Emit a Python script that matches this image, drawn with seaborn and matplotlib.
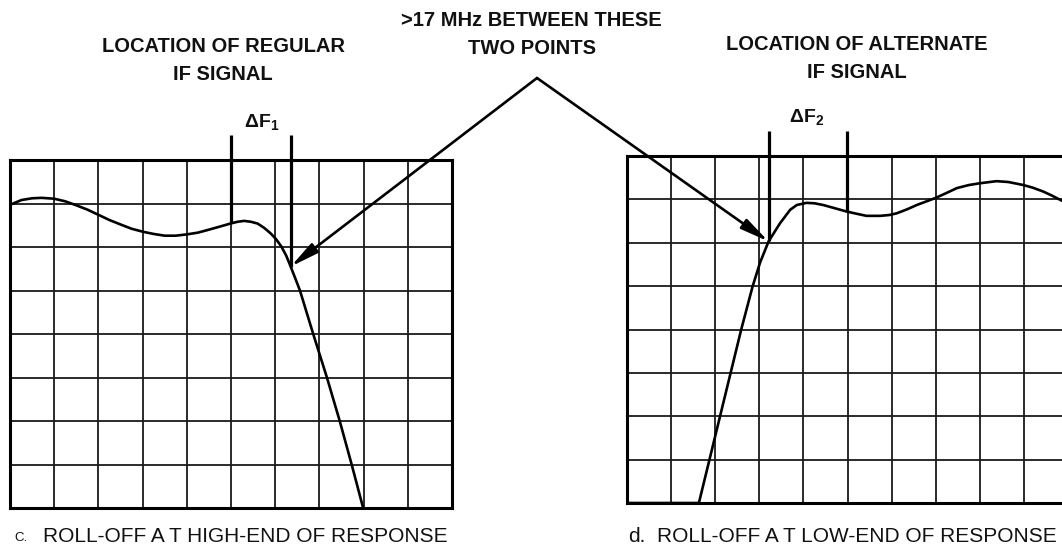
import numpy as np
import pandas as pd
import matplotlib
matplotlib.use("Agg")
import matplotlib.pyplot as plt
import seaborn as sns

sns.set_style("white")
plt.rcParams["font.family"] = ["Liberation Sans Narrow", "Liberation Sans", "DejaVu Sans"]
plt.rcParams["mathtext.fontset"] = "custom"
plt.rcParams["mathtext.rm"] = "Liberation Sans:bold"
plt.rcParams["mathtext.it"] = "Liberation Sans:bold"
plt.rcParams["mathtext.bf"] = "Liberation Sans:bold"

# Screen graticule: 10 x 8 divisions
GRID_X = list(range(0, 11))
GRID_Y = list(range(0, 9))

# (c) response rolling off at the high end
high_x = [0.0, 0.26, 0.5, 0.71, 1.0, 1.25, 1.47, 1.75, 2.0, 2.25, 2.52, 2.75, 3.01,
          3.25, 3.5, 3.75, 4.0, 4.25, 4.47, 4.75, 4.99, 5.15, 5.3, 5.45, 5.6, 5.75,
          5.9, 6.02, 6.14, 6.25, 6.35, 6.45, 6.56, 6.71, 6.86, 7.17, 7.46, 7.73, 7.99]
high_y = [6.97, 7.08, 7.12, 7.13, 7.11, 7.05, 6.97, 6.86, 6.74, 6.62, 6.51, 6.42, 6.35,
          6.30, 6.26, 6.26, 6.29, 6.33, 6.39, 6.47, 6.54, 6.58, 6.60, 6.58, 6.54, 6.44,
          6.31, 6.18, 6.01, 5.80, 5.55, 5.29, 5.0, 4.5, 4.0, 3.0, 2.0, 1.0, 0.0]

# (d) response rolling off at the low end
low_x = [0.0, 1.63, 1.87, 2.11, 2.35, 2.59, 2.85, 3.02, 3.21, 3.47, 3.7, 3.85, 4.07,
         4.25, 4.45, 4.98, 5.2, 5.43, 5.74, 5.95, 6.12, 6.35, 6.57, 6.99, 7.25, 7.48,
         7.75, 7.99, 8.38, 8.65, 8.99, 9.2, 9.44, 9.65, 9.82, 10.0]
low_y = [0.0, 0.0, 1.0, 2.0, 3.0, 4.0, 5.0, 5.55, 6.03, 6.45, 6.76, 6.87, 6.92,
         6.91, 6.87, 6.72, 6.67, 6.62, 6.62, 6.64, 6.68, 6.77, 6.87, 7.03, 7.15, 7.26,
         7.33, 7.37, 7.42, 7.40, 7.33, 7.27, 7.18, 7.08, 6.99, 6.90]

# Marker positions (x in divisions); each marker stands on the trace
high_markers_x = [5.0, 6.35]
low_markers_x = [3.21, 4.99]
MARKER_TOP = 8.58

W, H = 1062, 553
fig = plt.figure(figsize=(W / 100, H / 100), dpi=100)
fig.patch.set_facecolor("white")


def fx(px):
    return px / W


def fy(py):
    return 1 - py / H


ax_c = fig.add_axes([fx(10), fy(508), 442 / W, 348 / H])
ax_d = fig.add_axes([fx(627), fy(503), 441 / W, 347 / H])


def draw_screen(ax, xs, ys, markers):
    df = pd.DataFrame({"f": xs, "amp": ys})
    ax.set_xlim(GRID_X[0], GRID_X[-1])
    ax.set_ylim(GRID_Y[0], GRID_Y[-1])
    for gx in GRID_X[1:-1]:
        ax.axvline(gx, color="#1a1a1a", lw=1.3, zorder=1)
    for gy in GRID_Y[1:-1]:
        ax.axhline(gy, color="#1a1a1a", lw=1.3, zorder=1)
    sns.lineplot(data=df, x="f", y="amp", ax=ax, color="black", lw=1.9,
                 sort=False, estimator=None, zorder=3)
    for mx in markers:
        my = float(np.interp(mx, xs, ys))
        ax.plot([mx, mx], [my, MARKER_TOP], color="black", lw=2.3,
                clip_on=False, zorder=4, solid_capstyle="butt")
    ax.set_xticks([])
    ax.set_yticks([])
    ax.set_xlabel("")
    ax.set_ylabel("")
    for s in ax.spines.values():
        s.set_color("black")
        s.set_linewidth(2.2)
        s.set_visible(True)


draw_screen(ax_c, high_x, high_y, high_markers_x)
draw_screen(ax_d, low_x, low_y, low_markers_x)

# Arrows from the common label to the two roll-off points
apex = (fx(537), fy(78))
tip_c = (high_markers_x[1], float(np.interp(high_markers_x[1], high_x, high_y)))
tip_d = (low_markers_x[0], float(np.interp(low_markers_x[0], low_x, low_y)))
arrow_kw = dict(arrowstyle="-|>,head_length=0.85,head_width=0.17",
                mutation_scale=20, color="black", lw=1.9, shrinkA=0, shrinkB=0)
ax_c.annotate("", xy=tip_c, xycoords="data", xytext=apex,
              textcoords="figure fraction", arrowprops=arrow_kw,
              annotation_clip=False, zorder=6)
ax_d.annotate("", xy=tip_d, xycoords="data", xytext=apex,
              textcoords="figure fraction", arrowprops=arrow_kw,
              annotation_clip=False, zorder=6)

head_kw = dict(fontsize=14.5, fontweight="bold", ha="center", va="center",
               color="#111111")
fig.text(fx(223), fy(47), "LOCATION OF REGULAR", **head_kw)
fig.text(fx(223), fy(75), "IF SIGNAL", **head_kw)
fig.text(fx(531), fy(21), ">17 MHz BETWEEN THESE", **head_kw)
fig.text(fx(532), fy(49), "TWO POINTS", **head_kw)
fig.text(fx(857), fy(45), "LOCATION OF ALTERNATE", **head_kw)
fig.text(fx(857), fy(73), "IF SIGNAL", **head_kw)

fig.text(fx(262), fy(122), r"$\Delta\mathrm{F}_{1}$", fontsize=14, ha="center",
         va="center", color="#111111")
fig.text(fx(807), fy(117), r"$\Delta\mathrm{F}_{2}$", fontsize=14, ha="center",
         va="center", color="#111111")

cap_kw = dict(fontsize=15, ha="left", va="center", color="#111111")
fig.text(fx(14), fy(538), "C.", fontsize=9.5, ha="left", va="center", color="#111111")
fig.text(fx(43), fy(536), "ROLL-OFF A T HIGH-END OF RESPONSE", **cap_kw)
fig.text(fx(628), fy(536), "d.", fontsize=15, ha="left", va="center", color="#111111")
fig.text(fx(657), fy(536), "ROLL-OFF A T LOW-END OF RESPONSE", **cap_kw)

fig.savefig("out.png", dpi=100, facecolor="white")
